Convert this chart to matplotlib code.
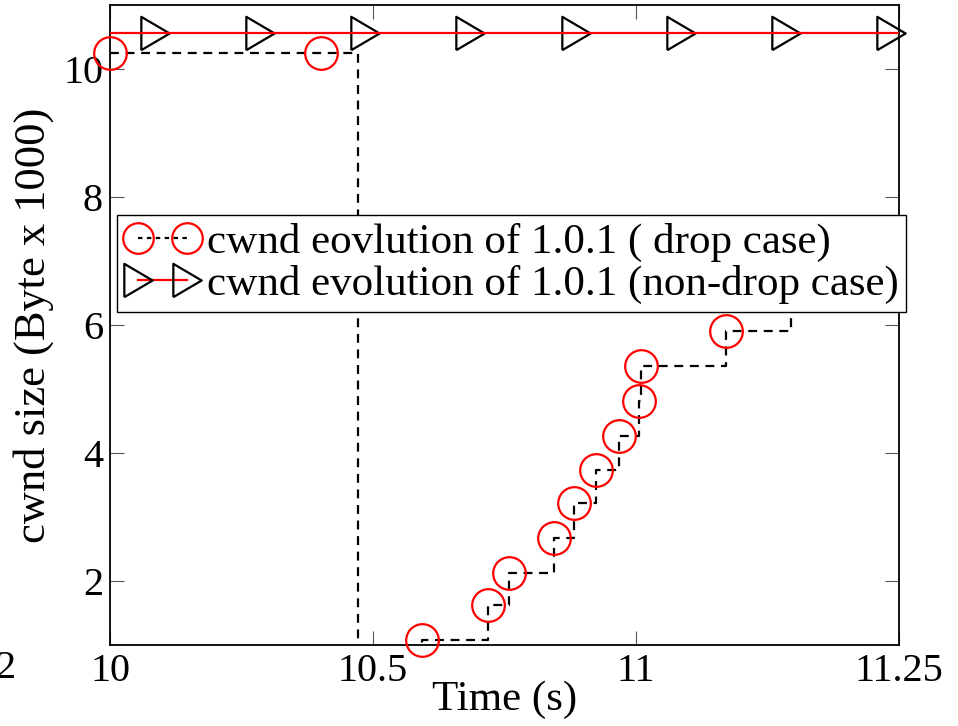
import matplotlib
matplotlib.use("Agg")
import matplotlib.pyplot as plt
from matplotlib.lines import Line2D

# ---- data ----
t_drop = [10.0, 10.401, 10.471, 10.594, 10.719, 10.759, 10.844, 10.882,
          10.924, 10.968, 11.006, 11.009, 11.171, 11.295, 11.5]
cwnd_drop = [10.25, 10.25, 0.54, 1.08, 1.62, 2.13, 2.67, 3.22,
             3.73, 4.27, 4.82, 5.36, 5.90, 6.55, 6.55]
drop_marker_idx = [0, 1, 3, 4, 5, 6, 7, 8, 9, 10, 11, 12, 13]

t_nodrop = [10.0, 10.085, 10.285, 10.485, 10.685, 10.885, 11.085, 11.285, 11.485, 11.5]
cwnd_nodrop = [10.56, 10.56, 10.56, 10.56, 10.56, 10.56, 10.56, 10.56, 10.56, 10.56]
nodrop_marker_idx = [1, 2, 3, 4, 5, 6, 7, 8]

x_ticks = [10.0, 10.5, 11.0, 11.5]
x_tick_labels = ["10", "10.5", "11", "11.25"]
y_ticks = [2, 4, 6, 8, 10]
y_tick_labels = ["2", "4", "6", "8", "10"]

label_drop = "cwnd eovlution of 1.0.1 ( drop case)"
label_nodrop = "cwnd evolution of 1.0.1 (non-drop case)"

plt.rcParams['font.family'] = ['Liberation Serif', 'DejaVu Serif']

fig = plt.figure(figsize=(9.58, 7.26), dpi=100)
ax = fig.add_axes([110/958, 1 - 645/726, 789/958, 640/726])

tri = [(-0.85, -1), (0.85, 0), (-0.85, 1), (-0.85, -1)]

# drop case: dashed step line
ax.plot(t_drop, cwnd_drop, drawstyle='steps-post', color='black',
        linestyle=(0, (4, 3)), linewidth=1.6, zorder=2)
ax.plot([t_drop[i] for i in drop_marker_idx], [cwnd_drop[i] for i in drop_marker_idx],
        linestyle='none', marker='o', markersize=23.5, markerfacecolor='none',
        markeredgecolor='red', markeredgewidth=1.6, clip_on=False, zorder=3)

# non-drop case
ax.plot(t_nodrop, cwnd_nodrop, color='red', linewidth=1.6, zorder=3)
ax.plot([t_nodrop[i] for i in nodrop_marker_idx], [cwnd_nodrop[i] for i in nodrop_marker_idx],
        linestyle='none', marker=tri, markersize=24, markerfacecolor='none',
        markeredgecolor='black', markeredgewidth=1.6, clip_on=False, zorder=2)

ax.set_xlim(10.0, 11.5)
ax.set_ylim(1.0, 11.0)
ax.set_xticks(x_ticks)
ax.set_xticklabels(x_tick_labels)
ax.set_yticks(y_ticks)
ax.set_yticklabels(y_tick_labels)
ax.tick_params(direction='in', length=10, width=0.8, color='#555555',
               top=True, right=True, labelsize=29, pad=5)
ax.tick_params(axis='x', pad=6)
for s in ax.spines.values():
    s.set_linewidth(1.3)

ax.set_xlabel("Time (s)", fontsize=31)
ax.xaxis.set_label_coords(0.5, -0.055)
ax.set_ylabel("cwnd size (Byte x 1000)", fontsize=32)
ax.yaxis.set_label_coords(-0.071, 0.5)

h_drop = Line2D([], [], color='black', linestyle=(0, (2, 2)), linewidth=1.6,
                marker='o', markersize=22, markerfacecolor='none',
                markeredgecolor='red', markeredgewidth=1.6)
h_nodrop = Line2D([], [], color='red', linewidth=1.6,
                  marker=tri, markersize=24, markerfacecolor='none',
                  markeredgecolor='black', markeredgewidth=1.6)
leg = ax.legend([h_drop, h_nodrop], [label_drop, label_nodrop],
                loc='upper left', bbox_to_anchor=(0.009, 0.672),
                borderaxespad=0, numpoints=2, handlelength=1.75,
                handletextpad=0.15, fontsize=31, fancybox=False,
                framealpha=1, edgecolor='black', borderpad=0.18,
                labelspacing=0.08)
leg.get_frame().set_linewidth(1.0)
leg.set_zorder(5)

fig.text(-5/958, 1 - 668/726, "2", fontsize=29, ha='left', va='center')

fig.savefig("out.png", dpi=100)
